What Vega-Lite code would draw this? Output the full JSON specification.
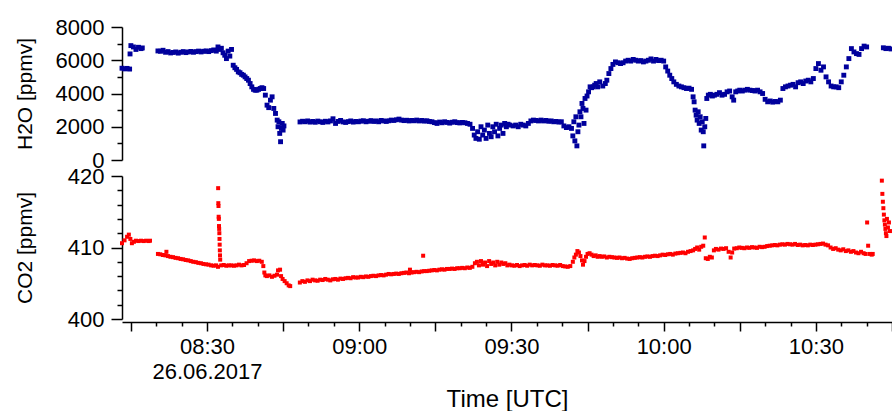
{
  "$schema": "https://vega.github.io/schema/vega-lite/v6.json",
  "padding": {"left": 14, "top": 16, "right": 0, "bottom": 0},
  "spacing": -6,
  "config": {
    "view": {"stroke": null},
    "axis": {
      "labelFont": "Liberation Sans",
      "titleFont": "Liberation Sans",
      "labelColor": "black",
      "titleColor": "black",
      "titleFontWeight": "normal",
      "domainColor": "black",
      "domainWidth": 1.5,
      "tickColor": "black",
      "tickWidth": 1.5,
      "grid": false,
      "labelFontSize": 22
    }
  },
  "vconcat": [
    {
      "width": 770,
      "height": 133,
      "data": {
        "format": {"parse": {"t": "utc:'%H:%M:%S'"}},
        "values": [
          {"t":"08:13:15","v":5520},{"t":"08:13:45","v":5480},{"t":"08:14:15","v":5510},{"t":"08:14:45","v":5470},{"t":"08:14:50","v":6380},{"t":"08:15:00","v":6880},{"t":"08:15:30","v":6800},{"t":"08:16:00","v":6650},{"t":"08:16:30","v":6780},{"t":"08:17:00","v":6700},{"t":"08:17:15","v":6740},
          {"t":"08:20:20","v":6560},{"t":"08:20:50","v":6540},{"t":"08:21:20","v":6600},{"t":"08:21:50","v":6480},{"t":"08:22:20","v":6520},{"t":"08:22:50","v":6440},{"t":"08:23:20","v":6470},{"t":"08:23:50","v":6500},{"t":"08:24:20","v":6430},{"t":"08:24:50","v":6480},{"t":"08:25:20","v":6520},{"t":"08:25:50","v":6460},{"t":"08:26:20","v":6500},{"t":"08:26:50","v":6530},{"t":"08:27:20","v":6480},{"t":"08:27:50","v":6520},{"t":"08:28:20","v":6550},{"t":"08:28:50","v":6500},{"t":"08:29:20","v":6540},{"t":"08:29:50","v":6560},{"t":"08:30:20","v":6520},{"t":"08:30:50","v":6580},{"t":"08:31:20","v":6620},{"t":"08:31:50","v":6550},{"t":"08:32:10","v":6800},{"t":"08:32:30","v":6650},{"t":"08:32:50","v":6720},{"t":"08:33:10","v":6450},{"t":"08:33:30","v":6300},{"t":"08:33:50","v":6100},{"t":"08:34:10","v":6550},{"t":"08:34:30","v":6250},{"t":"08:34:50","v":6650},{"t":"08:35:10","v":5700},{"t":"08:35:30","v":5550},{"t":"08:35:50","v":5450},{"t":"08:36:10","v":5300},{"t":"08:36:30","v":5250},{"t":"08:36:50","v":5150},{"t":"08:37:10","v":5100},{"t":"08:37:30","v":5000},{"t":"08:37:50","v":4900},{"t":"08:38:10","v":4800},{"t":"08:38:30","v":4600},{"t":"08:38:50","v":4400},{"t":"08:39:10","v":4250},{"t":"08:39:30","v":4200},{"t":"08:39:50","v":4200},{"t":"08:40:10","v":4250},{"t":"08:40:30","v":4300},{"t":"08:40:50","v":4350},{"t":"08:41:10","v":4300},{"t":"08:41:30","v":3900},{"t":"08:41:50","v":3300},{"t":"08:42:10","v":3150},{"t":"08:42:30","v":3600},{"t":"08:42:50","v":3800},{"t":"08:43:10","v":3100},{"t":"08:43:30","v":2800},{"t":"08:43:50","v":2400},{"t":"08:44:00","v":2000},{"t":"08:44:10","v":2300},{"t":"08:44:20","v":1600},{"t":"08:44:30","v":1100},{"t":"08:44:40","v":1900},{"t":"08:44:50","v":2200},{"t":"08:45:00","v":1800},{"t":"08:45:10","v":2050},
          {"t":"08:48:20","v":2290},{"t":"08:48:50","v":2330},{"t":"08:49:20","v":2300},{"t":"08:49:50","v":2350},{"t":"08:50:20","v":2280},{"t":"08:50:50","v":2320},{"t":"08:51:20","v":2270},{"t":"08:51:50","v":2340},{"t":"08:52:20","v":2300},{"t":"08:52:50","v":2260},{"t":"08:53:20","v":2330},{"t":"08:53:50","v":2290},{"t":"08:54:20","v":2350},{"t":"08:54:50","v":2480},{"t":"08:55:20","v":2200},{"t":"08:55:50","v":2320},{"t":"08:56:20","v":2380},{"t":"08:56:50","v":2290},{"t":"08:57:20","v":2260},{"t":"08:57:50","v":2310},{"t":"08:58:20","v":2350},{"t":"08:58:50","v":2280},{"t":"08:59:20","v":2320},{"t":"08:59:50","v":2300},{"t":"09:00:20","v":2340},{"t":"09:00:50","v":2360},{"t":"09:01:20","v":2300},{"t":"09:01:50","v":2330},{"t":"09:02:20","v":2370},{"t":"09:02:50","v":2320},{"t":"09:03:20","v":2350},{"t":"09:03:50","v":2300},{"t":"09:04:20","v":2380},{"t":"09:04:50","v":2350},{"t":"09:05:20","v":2320},{"t":"09:05:50","v":2360},{"t":"09:06:20","v":2400},{"t":"09:06:50","v":2380},{"t":"09:07:20","v":2420},{"t":"09:07:50","v":2460},{"t":"09:08:20","v":2400},{"t":"09:08:50","v":2370},{"t":"09:09:20","v":2390},{"t":"09:09:50","v":2350},{"t":"09:10:20","v":2380},{"t":"09:10:50","v":2360},{"t":"09:11:20","v":2400},{"t":"09:11:50","v":2350},{"t":"09:12:20","v":2380},{"t":"09:12:50","v":2340},{"t":"09:13:20","v":2360},{"t":"09:13:50","v":2320},{"t":"09:14:20","v":2300},{"t":"09:14:50","v":2250},{"t":"09:15:20","v":2200},{"t":"09:15:50","v":2280},{"t":"09:16:20","v":2240},{"t":"09:16:50","v":2300},{"t":"09:17:20","v":2260},{"t":"09:17:50","v":2220},{"t":"09:18:20","v":2270},{"t":"09:18:50","v":2300},{"t":"09:19:20","v":2250},{"t":"09:19:50","v":2230},{"t":"09:20:20","v":2260},{"t":"09:20:50","v":2240},{"t":"09:21:20","v":2200},{"t":"09:21:50","v":2150},
          {"t":"09:22:20","v":1900},{"t":"09:22:40","v":1500},{"t":"09:23:00","v":1300},{"t":"09:23:20","v":1700},{"t":"09:23:40","v":1250},{"t":"09:24:00","v":2000},{"t":"09:24:20","v":1500},{"t":"09:24:40","v":1800},{"t":"09:25:00","v":1300},{"t":"09:25:20","v":2100},{"t":"09:25:40","v":1600},{"t":"09:26:00","v":1400},{"t":"09:26:20","v":2000},{"t":"09:26:40","v":1700},{"t":"09:27:00","v":2150},{"t":"09:27:20","v":1450},{"t":"09:27:40","v":1900},{"t":"09:28:00","v":2100},{"t":"09:28:20","v":1600},{"t":"09:28:40","v":2200},{"t":"09:29:00","v":2000},{"t":"09:29:20","v":2150},{"t":"09:29:40","v":2100},{"t":"09:30:20","v":2050},{"t":"09:30:50","v":2100},{"t":"09:31:20","v":2000},{"t":"09:31:50","v":2150},{"t":"09:32:20","v":2100},{"t":"09:32:50","v":2050},{"t":"09:33:20","v":2200},{"t":"09:33:50","v":2350},{"t":"09:34:20","v":2400},{"t":"09:34:50","v":2380},{"t":"09:35:20","v":2350},{"t":"09:35:50","v":2400},{"t":"09:36:20","v":2350},{"t":"09:36:50","v":2380},{"t":"09:37:20","v":2330},{"t":"09:37:50","v":2350},{"t":"09:38:20","v":2300},{"t":"09:38:50","v":2320},{"t":"09:39:20","v":2280},{"t":"09:39:50","v":2300},{"t":"09:40:20","v":2050},{"t":"09:40:50","v":1950},{"t":"09:41:20","v":2000},{"t":"09:41:50","v":1900},
          {"t":"09:42:06","v":1450},{"t":"09:42:18","v":2300},{"t":"09:42:30","v":1150},{"t":"09:42:42","v":2600},{"t":"09:42:54","v":850},{"t":"09:43:06","v":1700},{"t":"09:43:18","v":2100},{"t":"09:43:30","v":2900},{"t":"09:43:42","v":2600},{"t":"09:43:54","v":3400},{"t":"09:44:06","v":3100},{"t":"09:44:18","v":2200},{"t":"09:44:30","v":3700},{"t":"09:44:42","v":3000},{"t":"09:44:54","v":3850},{"t":"09:45:12","v":4100},{"t":"09:45:30","v":4400},{"t":"09:45:48","v":4350},{"t":"09:46:06","v":4400},{"t":"09:46:24","v":4500},{"t":"09:46:42","v":4600},{"t":"09:47:00","v":4400},{"t":"09:47:24","v":4700},
          {"t":"09:48:00","v":4450},{"t":"09:48:30","v":4600},{"t":"09:48:48","v":4800},{"t":"09:49:12","v":5200},{"t":"09:49:36","v":5500},{"t":"09:50:00","v":5750},{"t":"09:50:30","v":5900},{"t":"09:51:00","v":5850},{"t":"09:51:30","v":5800},{"t":"09:52:00","v":5850},{"t":"09:52:30","v":5950},{"t":"09:53:00","v":6000},{"t":"09:53:30","v":5950},{"t":"09:54:00","v":6050},{"t":"09:54:30","v":6000},{"t":"09:55:00","v":5950},{"t":"09:55:30","v":5980},{"t":"09:56:00","v":5900},{"t":"09:56:30","v":5950},{"t":"09:57:00","v":6000},{"t":"09:57:30","v":6080},{"t":"09:58:00","v":5950},{"t":"09:58:30","v":6050},{"t":"09:59:00","v":5980},{"t":"09:59:30","v":6000},{"t":"10:00:00","v":5950},{"t":"10:00:24","v":5600},{"t":"10:00:48","v":5350},{"t":"10:01:12","v":5100},{"t":"10:01:36","v":4900},{"t":"10:02:00","v":4700},{"t":"10:02:30","v":4550},{"t":"10:03:00","v":4450},{"t":"10:03:30","v":4400},{"t":"10:04:00","v":4350},{"t":"10:04:30","v":4300},{"t":"10:05:00","v":4320},{"t":"10:05:30","v":4250},{"t":"10:05:48","v":3800},{"t":"10:06:00","v":3500},{"t":"10:06:12","v":3000},{"t":"10:06:24","v":2700},{"t":"10:06:36","v":2400},{"t":"10:06:48","v":2900},{"t":"10:07:00","v":2200},{"t":"10:07:12","v":2600},{"t":"10:07:24","v":1800},{"t":"10:07:36","v":2300},{"t":"10:07:48","v":1700},{"t":"10:07:54","v":850},{"t":"10:08:06","v":2000},{"t":"10:08:18","v":2500},{"t":"10:08:30","v":3700},{"t":"10:08:48","v":3900},{"t":"10:09:12","v":3950},{"t":"10:09:36","v":3850},{"t":"10:10:00","v":3900},{"t":"10:10:30","v":3950},{"t":"10:11:00","v":4050},{"t":"10:11:30","v":3900},{"t":"10:12:00","v":3950},{"t":"10:12:30","v":4100},{"t":"10:13:00","v":4150},{"t":"10:13:30","v":3800},{"t":"10:13:48","v":3600},{"t":"10:14:12","v":4100},{"t":"10:14:36","v":4150},{"t":"10:15:00","v":4200},{"t":"10:15:30","v":4150},{"t":"10:16:00","v":4200},{"t":"10:16:30","v":4250},{"t":"10:17:00","v":4200},{"t":"10:17:30","v":4180},{"t":"10:18:00","v":4150},{"t":"10:18:30","v":4200},{"t":"10:19:00","v":4100},{"t":"10:19:30","v":4000},{"t":"10:20:00","v":3650},{"t":"10:20:30","v":3500},{"t":"10:21:00","v":3550},{"t":"10:21:30","v":3480},{"t":"10:22:00","v":3520},{"t":"10:22:30","v":3500},{"t":"10:23:00","v":3600},{"t":"10:23:30","v":4300},{"t":"10:24:00","v":4400},{"t":"10:24:30","v":4450},{"t":"10:25:00","v":4500},{"t":"10:25:30","v":4550},{"t":"10:26:00","v":4400},{"t":"10:26:30","v":4650},{"t":"10:27:00","v":4700},{"t":"10:27:30","v":4600},{"t":"10:28:00","v":4750},{"t":"10:28:30","v":4800},{"t":"10:29:00","v":4700},{"t":"10:29:30","v":4900},{"t":"10:30:00","v":5500},{"t":"10:30:30","v":5800},{"t":"10:31:00","v":5400},{"t":"10:31:30","v":5600},{"t":"10:32:00","v":5000},{"t":"10:32:30","v":4700},{"t":"10:33:00","v":4450},{"t":"10:33:30","v":4400},{"t":"10:34:00","v":4400},{"t":"10:34:30","v":4350},{"t":"10:35:00","v":4700},{"t":"10:35:30","v":5100},{"t":"10:36:00","v":5600},{"t":"10:36:30","v":6100},{"t":"10:37:00","v":6700},{"t":"10:37:30","v":6500},{"t":"10:38:00","v":6400},{"t":"10:38:30","v":6350},{"t":"10:39:00","v":6700},{"t":"10:39:30","v":6850},{"t":"10:40:00","v":6800},
          {"t":"10:43:18","v":6750},{"t":"10:43:48","v":6700},{"t":"10:44:18","v":6720},{"t":"10:44:48","v":6680}
        ]
      },
      "mark": {"type": "square", "size": 24, "color": "#00009c", "opacity": 1},
      "encoding": {
        "x": {
          "field": "t", "type": "temporal",
          "scale": {"type": "utc", "domain": [-2208959205000, -2208950100000]},
          "axis": null
        },
        "y": {
          "field": "v", "type": "quantitative",
          "scale": {"domain": [0, 8000], "nice": false},
          "axis": {
            "title": "H2O [ppmv]",
            "titleFontSize": 21,
            "titleX": -97,
            "titleBaseline": "middle",
            "values": [0, 1000, 2000, 3000, 4000, 5000, 6000, 7000, 8000],
            "format": "d",
            "labelExpr": "datum.value % 2000 == 0 ? datum.label : ''",
            "labelOverlap": false,
            "tickSize": {"condition": {"test": "datum.value % 2000 == 0", "value": 11}, "value": 5},
            "labelPadding": 7
          }
        }
      }
    },
    {
      "width": 770,
      "height": 143,
      "data": {
        "format": {"parse": {"t": "utc:'%H:%M:%S'"}},
        "values": [
          {"t":"08:13:15","v":410.6},{"t":"08:13:45","v":411.0},{"t":"08:14:15","v":411.5},{"t":"08:14:36","v":411.8},{"t":"08:14:54","v":411.2},{"t":"08:15:12","v":410.6},{"t":"08:15:36","v":410.8},{"t":"08:16:00","v":410.95},{"t":"08:16:30","v":410.9},{"t":"08:17:00","v":410.95},{"t":"08:17:30","v":410.9},{"t":"08:18:00","v":410.95},{"t":"08:18:30","v":410.9},{"t":"08:18:46","v":410.95},
          {"t":"08:20:20","v":409.1},{"t":"08:20:48","v":409.05},{"t":"08:21:18","v":408.95},{"t":"08:21:48","v":408.9},{"t":"08:22:00","v":409.4},{"t":"08:22:18","v":408.8},{"t":"08:22:48","v":408.7},{"t":"08:23:18","v":408.65},{"t":"08:23:48","v":408.55},{"t":"08:24:18","v":408.5},{"t":"08:24:48","v":408.4},{"t":"08:25:18","v":408.35},{"t":"08:25:48","v":408.25},{"t":"08:26:18","v":408.2},{"t":"08:26:48","v":408.1},{"t":"08:27:18","v":408.0},{"t":"08:27:48","v":407.95},{"t":"08:28:18","v":407.85},{"t":"08:28:48","v":407.8},{"t":"08:29:18","v":407.7},{"t":"08:29:48","v":407.65},{"t":"08:30:18","v":407.6},{"t":"08:30:48","v":407.5},{"t":"08:31:18","v":407.45},{"t":"08:31:48","v":407.5},{"t":"08:32:10","v":407.3},
          {"t":"08:32:12","v":418.3},{"t":"08:32:14","v":416.2},{"t":"08:32:16","v":415.8},{"t":"08:32:18","v":414.3},{"t":"08:32:20","v":414.0},{"t":"08:32:22","v":413.0},{"t":"08:32:24","v":412.6},{"t":"08:32:26","v":412.0},{"t":"08:32:28","v":411.2},{"t":"08:32:30","v":410.4},{"t":"08:32:32","v":409.6},{"t":"08:32:34","v":408.9},{"t":"08:32:36","v":408.3},
          {"t":"08:32:48","v":407.5},{"t":"08:33:18","v":407.55},{"t":"08:33:48","v":407.45},{"t":"08:34:18","v":407.5},{"t":"08:34:48","v":407.5},{"t":"08:35:18","v":407.45},{"t":"08:35:48","v":407.5},{"t":"08:36:18","v":407.6},{"t":"08:36:48","v":407.5},{"t":"08:37:18","v":407.55},{"t":"08:37:48","v":407.8},{"t":"08:38:18","v":408.1},{"t":"08:38:48","v":408.15},{"t":"08:39:18","v":408.2},{"t":"08:39:48","v":408.1},{"t":"08:40:18","v":408.15},{"t":"08:40:48","v":408.0},{"t":"08:41:06","v":407.4},{"t":"08:41:18","v":406.5},{"t":"08:41:30","v":406.1},{"t":"08:41:48","v":406.0},{"t":"08:42:18","v":406.1},{"t":"08:42:48","v":405.9},{"t":"08:43:18","v":406.05},{"t":"08:43:48","v":406.2},{"t":"08:44:00","v":406.8},{"t":"08:44:24","v":406.9},{"t":"08:44:36","v":406.0},{"t":"08:44:54","v":405.6},{"t":"08:45:18","v":405.3},{"t":"08:45:42","v":405.0},{"t":"08:46:06","v":404.7},{"t":"08:46:24","v":404.6},
          {"t":"08:48:18","v":405.1},{"t":"08:48:48","v":405.3},{"t":"08:49:18","v":405.2},{"t":"08:49:48","v":405.4},{"t":"08:50:18","v":405.3},{"t":"08:50:48","v":405.5},{"t":"08:51:18","v":405.4},{"t":"08:51:48","v":405.35},{"t":"08:52:18","v":405.5},{"t":"08:52:48","v":405.45},{"t":"08:53:18","v":405.6},{"t":"08:53:48","v":405.5},{"t":"08:54:18","v":405.4},{"t":"08:54:48","v":405.55},{"t":"08:55:18","v":405.6},{"t":"08:55:48","v":405.5},{"t":"08:56:18","v":405.65},{"t":"08:56:48","v":405.6},{"t":"08:57:18","v":405.7},{"t":"08:57:48","v":405.75},{"t":"08:58:18","v":405.7},{"t":"08:58:48","v":405.85},{"t":"08:59:18","v":405.8},{"t":"08:59:48","v":405.8},{"t":"09:00:18","v":405.9},{"t":"09:00:48","v":405.85},{"t":"09:01:18","v":405.95},{"t":"09:01:48","v":405.9},{"t":"09:02:18","v":406.0},{"t":"09:02:48","v":406.05},{"t":"09:03:18","v":406.0},{"t":"09:03:48","v":406.1},{"t":"09:04:18","v":406.15},{"t":"09:04:48","v":406.1},{"t":"09:05:18","v":406.2},{"t":"09:05:48","v":406.3},{"t":"09:06:18","v":406.25},{"t":"09:06:48","v":406.3},{"t":"09:07:18","v":406.35},{"t":"09:07:48","v":406.3},{"t":"09:08:18","v":406.4},{"t":"09:08:48","v":406.45},{"t":"09:09:18","v":406.5},{"t":"09:09:48","v":406.4},{"t":"09:10:00","v":406.9},{"t":"09:10:18","v":406.5},{"t":"09:10:48","v":406.55},{"t":"09:11:18","v":406.6},{"t":"09:11:48","v":406.55},{"t":"09:12:18","v":406.65},{"t":"09:12:36","v":408.85},{"t":"09:12:48","v":406.7},{"t":"09:13:18","v":406.7},{"t":"09:13:48","v":406.75},{"t":"09:14:18","v":406.8},{"t":"09:14:48","v":406.85},{"t":"09:15:18","v":406.8},{"t":"09:15:48","v":406.9},{"t":"09:16:18","v":406.95},{"t":"09:16:48","v":406.9},{"t":"09:17:18","v":407.0},{"t":"09:17:48","v":407.0},{"t":"09:18:18","v":407.05},{"t":"09:18:48","v":407.0},{"t":"09:19:18","v":407.1},{"t":"09:19:48","v":407.1},{"t":"09:20:18","v":407.15},{"t":"09:20:48","v":407.1},{"t":"09:21:18","v":407.2},{"t":"09:21:48","v":407.15},{"t":"09:22:18","v":407.3},
          {"t":"09:22:48","v":407.8},{"t":"09:23:12","v":408.0},{"t":"09:23:36","v":407.5},{"t":"09:24:00","v":408.1},{"t":"09:24:24","v":407.6},{"t":"09:24:48","v":407.9},{"t":"09:25:12","v":407.4},{"t":"09:25:36","v":408.1},{"t":"09:26:00","v":407.7},{"t":"09:26:24","v":407.9},{"t":"09:26:48","v":407.5},{"t":"09:27:12","v":408.0},{"t":"09:27:36","v":407.6},{"t":"09:28:00","v":407.9},{"t":"09:28:24","v":407.7},{"t":"09:28:48","v":407.8},{"t":"09:29:12","v":407.5},{"t":"09:29:36","v":407.6},
          {"t":"09:30:06","v":407.5},{"t":"09:30:36","v":407.45},{"t":"09:31:06","v":407.55},{"t":"09:31:36","v":407.4},{"t":"09:32:06","v":407.5},{"t":"09:32:36","v":407.55},{"t":"09:33:06","v":407.45},{"t":"09:33:36","v":407.6},{"t":"09:34:06","v":407.5},{"t":"09:34:36","v":407.55},{"t":"09:35:06","v":407.5},{"t":"09:35:36","v":407.45},{"t":"09:36:06","v":407.6},{"t":"09:36:36","v":407.5},{"t":"09:37:06","v":407.5},{"t":"09:37:36","v":407.45},{"t":"09:38:06","v":407.55},{"t":"09:38:36","v":407.5},{"t":"09:39:06","v":407.45},{"t":"09:39:36","v":407.55},{"t":"09:40:06","v":407.4},{"t":"09:40:36","v":407.35},{"t":"09:41:06","v":407.3},{"t":"09:41:36","v":407.4},
          {"t":"09:42:06","v":408.0},{"t":"09:42:24","v":408.6},{"t":"09:42:42","v":409.0},{"t":"09:43:00","v":409.5},{"t":"09:43:18","v":409.3},{"t":"09:43:36","v":408.8},{"t":"09:43:54","v":408.2},{"t":"09:44:06","v":407.6},{"t":"09:44:24","v":408.1},{"t":"09:44:42","v":408.7},{"t":"09:45:00","v":409.1},{"t":"09:45:24","v":409.2},{"t":"09:45:48","v":409.0},{"t":"09:46:12","v":408.8},{"t":"09:46:36","v":408.9},{"t":"09:47:00","v":408.7},{"t":"09:47:24","v":408.8},
          {"t":"09:47:48","v":408.7},{"t":"09:48:18","v":408.75},{"t":"09:48:48","v":408.6},{"t":"09:49:18","v":408.7},{"t":"09:49:48","v":408.65},{"t":"09:50:18","v":408.6},{"t":"09:50:48","v":408.55},{"t":"09:51:18","v":408.6},{"t":"09:51:48","v":408.5},{"t":"09:52:18","v":408.55},{"t":"09:52:48","v":408.45},{"t":"09:53:18","v":408.4},{"t":"09:53:48","v":408.5},{"t":"09:54:18","v":408.55},{"t":"09:54:48","v":408.6},{"t":"09:55:18","v":408.65},{"t":"09:55:48","v":408.6},{"t":"09:56:18","v":408.7},{"t":"09:56:48","v":408.75},{"t":"09:57:18","v":408.7},{"t":"09:57:48","v":408.8},{"t":"09:58:18","v":408.85},{"t":"09:58:48","v":408.8},{"t":"09:59:18","v":408.9},{"t":"09:59:48","v":409.0},{"t":"10:00:18","v":408.95},{"t":"10:00:48","v":409.05},{"t":"10:01:18","v":409.1},{"t":"10:01:48","v":409.0},{"t":"10:02:18","v":409.15},{"t":"10:02:48","v":409.2},{"t":"10:03:18","v":409.25},{"t":"10:03:48","v":409.3},{"t":"10:04:18","v":409.2},{"t":"10:04:48","v":409.4},{"t":"10:05:18","v":409.5},{"t":"10:05:48","v":409.6},{"t":"10:06:12","v":409.8},{"t":"10:06:36","v":410.0},{"t":"10:07:00","v":409.7},{"t":"10:07:24","v":410.1},{"t":"10:07:48","v":410.25},{"t":"10:08:06","v":411.4},{"t":"10:08:18","v":408.5},{"t":"10:08:42","v":408.4},{"t":"10:09:06","v":408.7},{"t":"10:09:30","v":408.6},{"t":"10:09:54","v":409.6},{"t":"10:10:18","v":409.8},{"t":"10:10:48","v":409.7},{"t":"10:11:18","v":409.85},{"t":"10:11:48","v":409.8},{"t":"10:12:18","v":409.9},{"t":"10:12:48","v":409.4},{"t":"10:13:12","v":408.6},{"t":"10:13:30","v":409.3},{"t":"10:13:54","v":409.85},{"t":"10:14:24","v":409.9},{"t":"10:14:54","v":410.0},{"t":"10:15:24","v":409.95},{"t":"10:15:54","v":409.9},{"t":"10:16:24","v":410.0},{"t":"10:16:54","v":409.95},{"t":"10:17:24","v":410.05},{"t":"10:17:54","v":410.0},{"t":"10:18:24","v":409.95},{"t":"10:18:54","v":410.1},{"t":"10:19:24","v":410.05},{"t":"10:19:54","v":410.1},{"t":"10:20:24","v":410.2},{"t":"10:20:54","v":410.25},{"t":"10:21:24","v":410.3},{"t":"10:21:54","v":410.35},{"t":"10:22:24","v":410.3},{"t":"10:22:54","v":410.4},{"t":"10:23:24","v":410.45},{"t":"10:23:54","v":410.4},{"t":"10:24:24","v":410.5},{"t":"10:24:54","v":410.45},{"t":"10:25:24","v":410.4},{"t":"10:25:54","v":410.5},{"t":"10:26:24","v":410.35},{"t":"10:26:54","v":410.4},{"t":"10:27:24","v":410.3},{"t":"10:27:54","v":410.35},{"t":"10:28:24","v":410.3},{"t":"10:28:54","v":410.4},{"t":"10:29:24","v":410.35},{"t":"10:29:54","v":410.4},{"t":"10:30:24","v":410.45},{"t":"10:30:54","v":410.5},{"t":"10:31:24","v":410.55},{"t":"10:31:54","v":410.4},{"t":"10:32:24","v":410.3},{"t":"10:32:54","v":410.0},{"t":"10:33:24","v":409.8},{"t":"10:33:54","v":409.9},{"t":"10:34:24","v":409.7},{"t":"10:34:54","v":409.6},{"t":"10:35:24","v":409.75},{"t":"10:35:54","v":409.5},{"t":"10:36:24","v":409.6},{"t":"10:36:54","v":409.4},{"t":"10:37:24","v":409.5},{"t":"10:37:54","v":409.3},{"t":"10:38:24","v":409.2},{"t":"10:38:54","v":409.4},{"t":"10:39:24","v":409.2},{"t":"10:39:48","v":409.1},{"t":"10:40:06","v":413.5},{"t":"10:40:18","v":410.25},{"t":"10:40:36","v":409.1},{"t":"10:41:00","v":409.0},{"t":"10:41:12","v":409.1},
          {"t":"10:43:00","v":419.35},{"t":"10:43:06","v":417.5},{"t":"10:43:12","v":416.4},{"t":"10:43:18","v":415.5},{"t":"10:43:24","v":414.6},{"t":"10:43:30","v":413.8},{"t":"10:43:36","v":413.2},{"t":"10:43:42","v":412.6},{"t":"10:43:48","v":412.0},{"t":"10:43:54","v":411.6},{"t":"10:44:00","v":414.0},{"t":"10:44:12","v":412.8},{"t":"10:44:24","v":413.5},{"t":"10:44:36","v":412.3}
        ]
      },
      "mark": {"type": "square", "size": 16, "color": "#ff0000", "opacity": 1},
      "encoding": {
        "x": {
          "field": "t", "type": "temporal",
          "scale": {"type": "utc", "domain": [-2208959205000, -2208950100000]},
          "axis": {
            "title": "Time [UTC]",
            "titleFontSize": 24,
            "titlePadding": 5,
            "offset": 3,
            "values": [-2208959100000, -2208958800000, -2208958500000, -2208958200000, -2208957900000, -2208957600000, -2208957300000, -2208957000000, -2208956700000, -2208956400000, -2208956100000, -2208955800000, -2208955500000, -2208955200000, -2208954900000, -2208954600000, -2208954300000, -2208954000000, -2208953700000, -2208953400000, -2208953100000, -2208952800000, -2208952500000, -2208952200000, -2208951900000, -2208951600000, -2208951300000, -2208951000000, -2208950700000, -2208950400000, -2208950100000],
            "labelExpr": "utcminutes(datum.value) % 30 == 0 ? (utchours(datum.value) == 8 ? ['08:30', '26.06.2017'] : utcFormat(datum.value, '%H:%M')) : ''",
            "labelOverlap": false,
            "labelLineHeight": 25,
            "labelPadding": 5,
            "tickSize": {"condition": {"test": "utcminutes(datum.value) % 15 == 0", "value": 9}, "value": 4}
          }
        },
        "y": {
          "field": "v", "type": "quantitative",
          "scale": {"domain": [400, 420], "nice": false},
          "axis": {
            "title": "CO2 [ppmv]",
            "titleFontSize": 21,
            "titleX": -97,
            "titleBaseline": "middle",
            "values": [400, 402, 404, 406, 408, 410, 412, 414, 416, 418, 420],
            "labelExpr": "datum.value % 10 == 0 ? datum.label : ''",
            "labelOverlap": false,
            "tickSize": {"condition": {"test": "datum.value % 10 == 0", "value": 11}, "value": 5},
            "labelPadding": 7
          }
        }
      }
    }
  ]
}
